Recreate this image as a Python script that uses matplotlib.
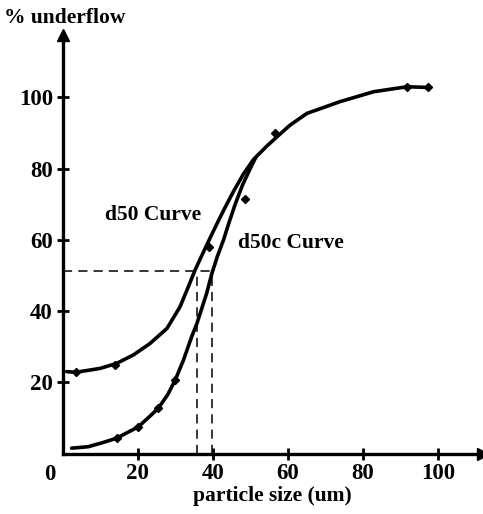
import matplotlib.pyplot as plt

# d50 curve (upper)
d50_x = [1.1, 3.5, 10.0, 14.4, 18.9, 23.3, 27.8, 31.3, 33.5, 35.3, 37.5, 39.3, 41.5, 43.5, 45.5, 48.2,
         50.9, 54.4, 57.1, 60.6, 65.1, 73.9, 82.9, 91.8, 97.5]
d50_y = [23.0, 22.8, 23.9, 25.3, 27.7, 30.9, 35.1, 41.2, 46.8, 51.5, 56.5, 60.5, 65.3, 69.5, 73.5, 78.5,
         82.6, 86.3, 88.9, 92.2, 95.5, 98.8, 101.6, 103.0, 102.8]
d50_mark_x = [3.5, 14.0, 38.9, 56.7, 91.8, 97.5]
d50_mark_y = [22.8, 24.8, 58.0, 90.0, 103.0, 102.8]

# d50c curve (lower, corrected)
d50c_x = [2.4, 6.8, 10.5, 14.4, 20.2, 23.3, 25.5, 28.0, 30.0, 32.2, 34.4, 35.8, 38.4, 39.8, 41.3,
          42.9, 44.4, 46.0, 48.0, 50.0, 51.5]
d50c_y = [1.5, 1.9, 3.0, 4.3, 7.5, 10.5, 12.7, 16.5, 20.6, 26.2, 32.8, 36.5, 45.0, 50.6, 55.5,
          60.0, 65.0, 70.0, 75.5, 80.0, 83.2]
d50c_mark_x = [14.4, 20.2, 25.5, 30.0, 48.6]
d50c_mark_y = [4.3, 7.5, 12.7, 20.6, 71.6]

# cut sizes at 50 %
y50 = 51.2
d50_cut = 35.8
d50c_cut = 39.8

plt.rcParams['font.family'] = ['Liberation Serif', 'DejaVu Serif']
plt.rcParams['font.weight'] = 'bold'

fig = plt.figure(figsize=(4.83, 5.14), dpi=100)
ax = fig.add_axes([0.1296, 0.1177, 0.870, 0.814])
xmax, ymax = 112, 117.5
ax.set_xlim(0, xmax)
ax.set_ylim(0, ymax)

ax.plot(d50_x, d50_y, color='black', lw=2.6, solid_capstyle='round', solid_joinstyle='round', clip_on=False)
ax.plot(d50c_x, d50c_y, color='black', lw=2.6, solid_capstyle='round', solid_joinstyle='round', clip_on=False)
ax.plot(d50_mark_x, d50_mark_y, 'D', color='black', ms=4, ls='none', clip_on=False)
ax.plot(d50c_mark_x, d50c_mark_y, 'D', color='black', ms=4, ls='none', clip_on=False)

# dashed construction lines
ax.plot([0, d50c_cut], [y50, y50], color='black', lw=1.1, ls=(0, (6, 4)))
ax.plot([d50_cut, d50_cut], [0, y50], color='black', lw=1.1, ls=(0, (6, 4)))
ax.plot([d50c_cut, d50c_cut], [0, y50], color='black', lw=1.1, ls=(0, (6, 4)))

ax.text(11.3, 66.9, 'd50 Curve', fontsize=15.5, fontweight='bold', va='center', ha='left')
ax.text(46.8, 59.1, 'd50c Curve', fontsize=15.5, fontweight='bold', va='center', ha='left')

# axes with arrows
for s in ['top', 'right']:
    ax.spines[s].set_visible(False)
for s in ['left', 'bottom']:
    ax.spines[s].set_linewidth(2.4)
ax.plot([0], [ymax], marker='^', color='black', ms=9, clip_on=False)
ax.plot([xmax], [0], marker='>', color='black', ms=9, clip_on=False)

ax.set_xticks([20, 40, 60, 80, 100])
ax.set_yticks([20, 40, 60, 80, 100])
ax.tick_params(direction='inout', length=8, width=2, labelsize=16.5, pad=3)
for lab in ax.get_xticklabels() + ax.get_yticklabels():
    lab.set_fontweight('bold')
ax.text(-3.3, -3, '0', fontsize=16.5, fontweight='bold', ha='center', va='top')

ax.set_xlabel('particle size (um)', fontsize=15.5, fontweight='bold', labelpad=1)
fig.text(0.008, 0.965, '% underflow', fontsize=15.5, fontweight='bold', ha='left', va='center')

plt.savefig('out.png', dpi=100)
